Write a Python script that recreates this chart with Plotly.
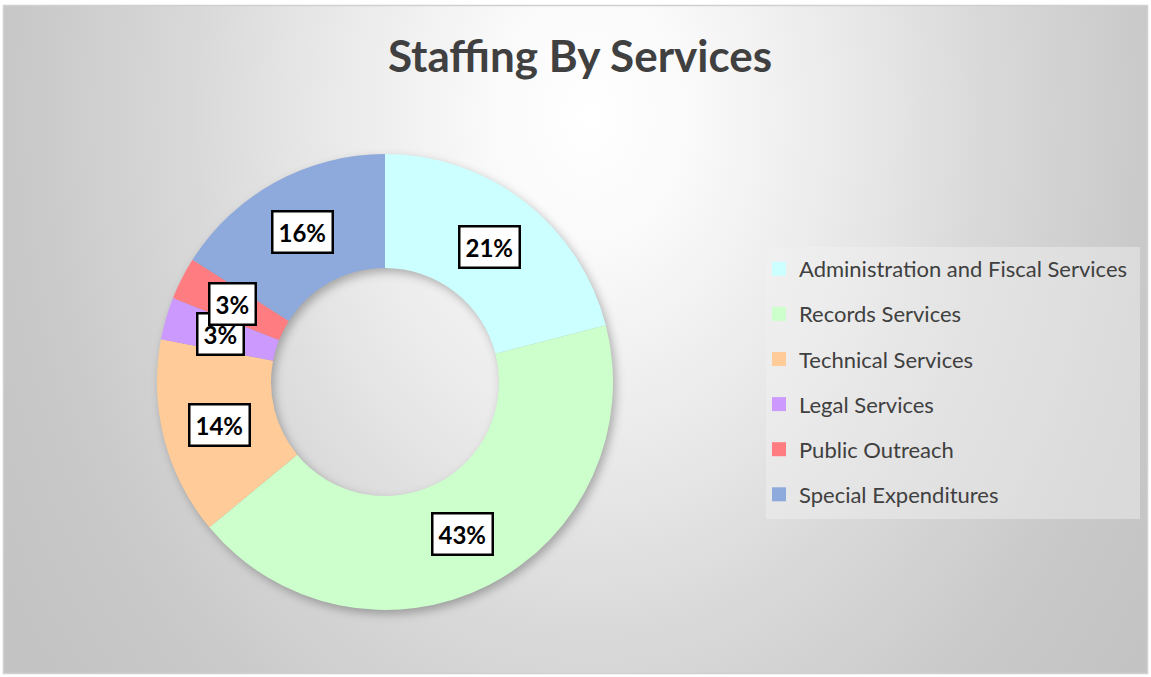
import math
import base64
import plotly.graph_objects as go

# data
categories = ['Administration and Fiscal Services', 'Records Services', 'Technical Services',
              'Legal Services', 'Public Outreach', 'Special Expenditures']
staff_share = [21, 43, 14, 3, 3, 16]
slice_colors = ['#CCFFFF', '#CCFFCC', '#FFCC99', '#CC99FF', '#FF7C80', '#8EA9DB']

W, H = 1151, 677
# donut placement in pixels
CX, CY, R_OUT = 385, 382, 228
HOLE = 0.5
R_IN = R_OUT * HOLE
R_MID = (R_OUT + R_IN) / 2

# background: radial grey gradient, frame and soft shadow under the ring
svg = f'''<svg xmlns="http://www.w3.org/2000/svg" width="{W}" height="{H}" viewBox="0 0 {W} {H}" preserveAspectRatio="none">
<defs>
<radialGradient id="bg" gradientUnits="userSpaceOnUse" cx="0" cy="0" r="1" gradientTransform="translate(590,115) scale(700,920)">
<stop offset="0" stop-color="#ffffff"/>
<stop offset="0.14" stop-color="#fafafa"/>
<stop offset="0.39" stop-color="#e8e8e8"/>
<stop offset="0.565" stop-color="#d9d9d9"/>
<stop offset="0.82" stop-color="#c8c8c8"/>
<stop offset="1" stop-color="#c3c3c3"/>
</radialGradient>
<filter id="blur" x="-30%" y="-30%" width="160%" height="160%"><feGaussianBlur stdDeviation="5"/></filter>
</defs>
<rect width="{W}" height="{H}" fill="#ffffff"/>
<rect x="3.5" y="5.5" width="1144" height="668" fill="url(#bg)" stroke="#d0d0d0" stroke-width="1.5"/>
<circle cx="{CX + 3}" cy="{CY + 4}" r="{R_MID}" fill="none" stroke="#000000" stroke-opacity="0.28"
 stroke-width="{R_OUT - R_IN}" filter="url(#blur)"/>
<rect x="766" y="247" width="374" height="272" fill="#f2f2f2" fill-opacity="0.45"/>
</svg>'''
bg_src = 'data:image/svg+xml;base64,' + base64.b64encode(svg.encode()).decode()

fig = go.Figure()
fig.add_trace(go.Pie(
    labels=categories, values=staff_share, hole=HOLE,
    sort=False, direction='clockwise', rotation=0,
    marker=dict(colors=slice_colors, line=dict(width=0)),
    textinfo='none', hoverinfo='label+percent', showlegend=False,
    domain=dict(x=[(CX - R_OUT) / W, (CX + R_OUT) / W],
                y=[1 - (CY + R_OUT) / H, 1 - (CY - R_OUT) / H]),
))

# legend entries, one group each so the gap can be widened
for cat, col in zip(categories, slice_colors):
    fig.add_trace(go.Scatter(x=[None], y=[None], mode='markers', name=cat, legendgroup=cat,
                             marker=dict(symbol='square', size=14, color=col), hoverinfo='skip'))

# boxed percent labels at the middle of each slice
total = sum(staff_share)
cum = 0
annotations = []
for v in staff_share:
    ang = math.radians((cum + v / 2) / total * 360)
    cum += v
    px = CX + R_MID * math.sin(ang)
    py = CY - R_MID * math.cos(ang)
    annotations.append(dict(
        x=px / W, y=1 - py / H, xref='paper', yref='paper', showarrow=False,
        xanchor='center', yanchor='middle',
        text=f'{round(v / total * 100)}%',
        font=dict(family='Lato', size=24, color='#000000', weight='bold'),
        bgcolor='#ffffff', bordercolor='#000000', borderwidth=2.5, borderpad=5,
    ))

fig.update_layout(
    width=W, height=H, autosize=False,
    margin=dict(l=0, r=0, t=0, b=0),
    paper_bgcolor='#ffffff', plot_bgcolor='rgba(0,0,0,0)',
    title=dict(text='<b>Staffing By Services</b>', x=580 / W, y=1 - 57 / H,
               xanchor='center', yanchor='middle',
               font=dict(family='Lato', size=44, color='#404040')),
    xaxis=dict(visible=False), yaxis=dict(visible=False),
    legend=dict(x=759 / W, y=1 - 248 / H, xanchor='left', yanchor='top',
                bgcolor='rgba(0,0,0,0)', borderwidth=0,
                font=dict(family='Lato', size=22, color='#404040'),
                tracegroupgap=13.5, itemclick=False, itemdoubleclick=False),
    images=[dict(source=bg_src, xref='paper', yref='paper', x=0, y=1, sizex=1, sizey=1,
                 sizing='stretch', layer='below', xanchor='left', yanchor='top')],
    annotations=annotations,
)

fig.write_html('out.html', config={'displayModeBar': False},
               post_script="document.body.style.margin='0';document.body.style.overflow='hidden';")
